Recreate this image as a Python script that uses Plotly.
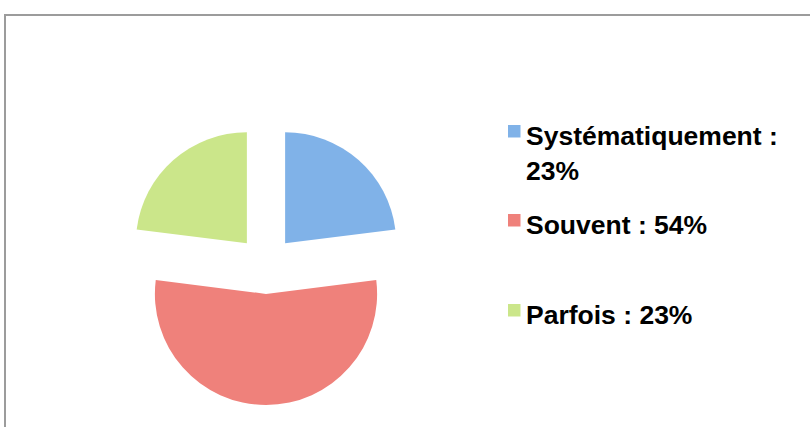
import plotly.graph_objects as go

categories = ["Systématiquement", "Souvent", "Parfois"]
values = [23, 54, 23]
colors = ["#80b2e8", "#ef817b", "#cbe68a"]
# legend lines per item (first item wraps onto two lines)
legend_lines = [["Systématiquement :", "23%"], ["Souvent : 54%"], ["Parfois : 23%"]]

W, H = 810, 427
FONT = "Liberation Sans, Arial, Helvetica, sans-serif"

fig = go.Figure()
fig.add_trace(go.Pie(
    labels=categories,
    values=values,
    sort=False,
    direction="clockwise",
    rotation=0,
    pull=[0.26] * len(values),
    marker=dict(colors=colors, line=dict(width=0)),
    textinfo="none",
    hoverinfo="label+percent",
    showlegend=False,
    domain=dict(x=[126 / W, 406 / W], y=[1 - 405 / H, 1 - 125 / H]),
))

# manual legend, to reproduce the original spacing
legend_tops = [125, 214, 304]
LINE_GAP = 35
annotations = []
shapes = [dict(type="rect", xref="paper", yref="paper",
               x0=5 / W, x1=1.05, y0=-0.05, y1=1 - 15 / H,
               line=dict(color="#9c9c9c", width=2), fillcolor="rgba(0,0,0,0)")]
for lines, col, top in zip(legend_lines, colors, legend_tops):
    shapes.append(dict(type="rect", xref="paper", yref="paper",
                       x0=508 / W, x1=520.5 / W, y0=1 - (top + 12.5) / H, y1=1 - top / H,
                       line=dict(width=0), fillcolor=col))
    for i, line in enumerate(lines):
        annotations.append(dict(xref="paper", yref="paper", x=524 / W,
                                y=1 - (top - 6 + i * LINE_GAP) / H,
                                xanchor="left", yanchor="top", align="left", showarrow=False,
                                text="<b>" + line + "</b>",
                                font=dict(family=FONT, size=26.5, color="#000000")))

fig.update_layout(
    width=W, height=H,
    margin=dict(l=0, r=0, t=0, b=0),
    paper_bgcolor="white",
    plot_bgcolor="white",
    shapes=shapes,
    annotations=annotations,
)

fig.write_html("out.html", config={"displayModeBar": False},
               post_script="document.body.style.margin='0';document.body.style.padding='0';")
